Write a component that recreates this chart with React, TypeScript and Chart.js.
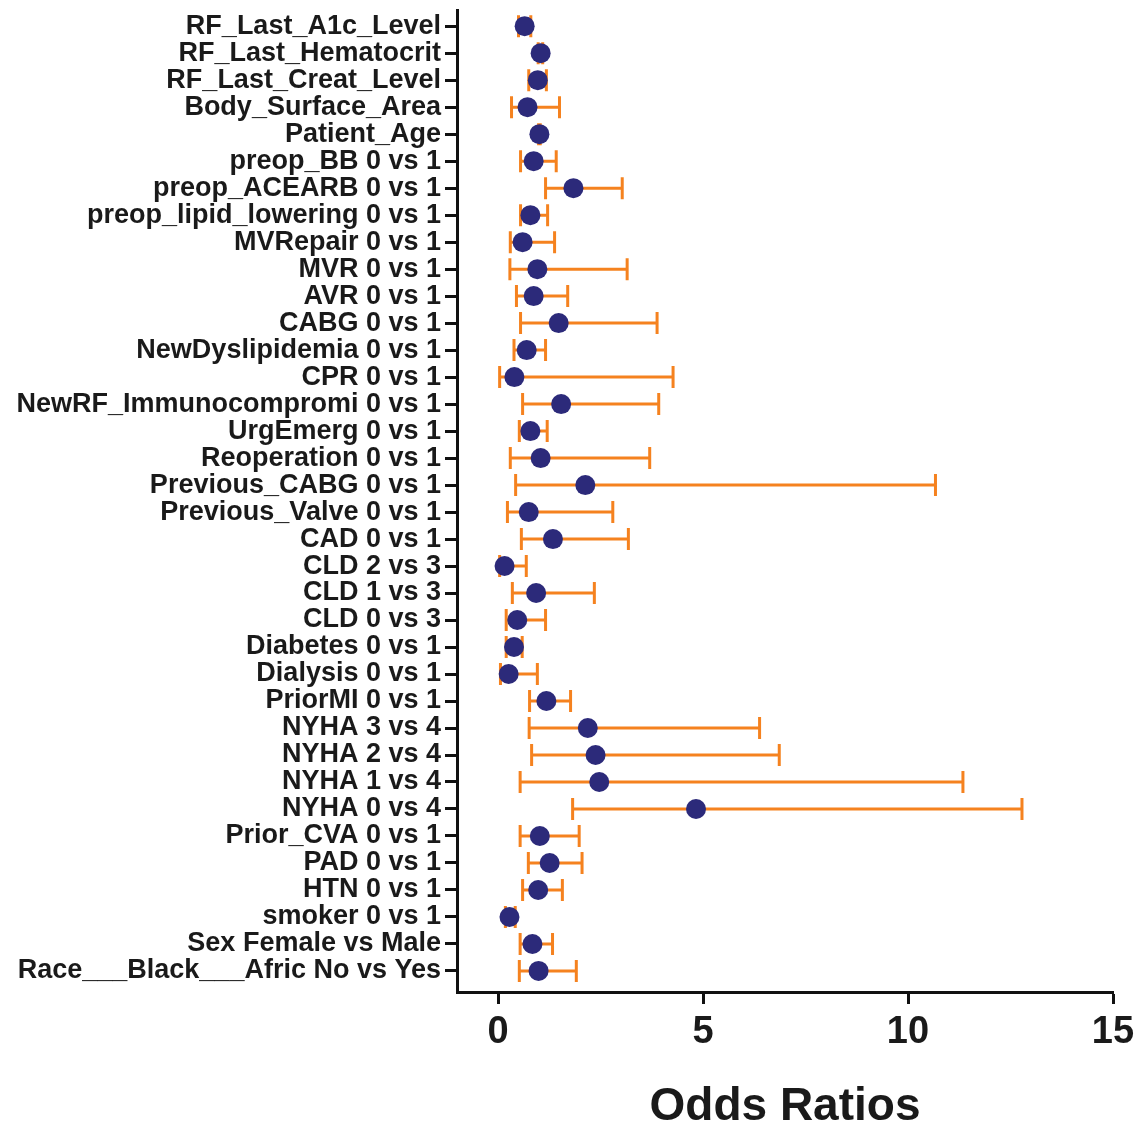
import React, { useEffect, useRef } from "react";
import { Chart, registerables } from "chart.js";

Chart.register(...registerables);

const labels = [
  "RF_Last_A1c_Level",
  "RF_Last_Hematocrit",
  "RF_Last_Creat_Level",
  "Body_Surface_Area",
  "Patient_Age",
  "preop_BB 0 vs 1",
  "preop_ACEARB 0 vs 1",
  "preop_lipid_lowering 0 vs 1",
  "MVRepair 0 vs 1",
  "MVR 0 vs 1",
  "AVR 0 vs 1",
  "CABG 0 vs 1",
  "NewDyslipidemia 0 vs 1",
  "CPR 0 vs 1",
  "NewRF_Immunocompromi 0 vs 1",
  "UrgEmerg 0 vs 1",
  "Reoperation 0 vs 1",
  "Previous_CABG 0 vs 1",
  "Previous_Valve 0 vs 1",
  "CAD 0 vs 1",
  "CLD 2 vs 3",
  "CLD 1 vs 3",
  "CLD 0 vs 3",
  "Diabetes 0 vs 1",
  "Dialysis 0 vs 1",
  "PriorMI 0 vs 1",
  "NYHA 3 vs 4",
  "NYHA 2 vs 4",
  "NYHA 1 vs 4",
  "NYHA 0 vs 4",
  "Prior_CVA 0 vs 1",
  "PAD 0 vs 1",
  "HTN 0 vs 1",
  "smoker 0 vs 1",
  "Sex Female vs Male",
  "Race___Black___Afric No vs Yes",
];

const oddsRatio = [
  0.65, 1.04, 0.97, 0.72, 1.01, 0.87, 1.84, 0.79, 0.6, 0.96, 0.87, 1.48,
  0.7, 0.4, 1.54, 0.79, 1.04, 2.13, 0.75, 1.34, 0.16, 0.93, 0.47, 0.39,
  0.26, 1.18, 2.19, 2.38, 2.47, 4.83, 1.02, 1.26, 0.98, 0.28, 0.84, 0.99,
];

const lowerCI = [
  0.5, 0.98, 0.75, 0.33, 0.99, 0.55, 1.16, 0.55, 0.3, 0.29, 0.45, 0.55,
  0.39, 0.04, 0.6, 0.52, 0.3, 0.43, 0.23, 0.57, 0.04, 0.35, 0.2, 0.2,
  0.06, 0.77, 0.76, 0.82, 0.54, 1.82, 0.54, 0.74, 0.6, 0.18, 0.54, 0.52,
];

const upperCI = [
  0.8, 1.09, 1.18, 1.5, 1.03, 1.42, 3.03, 1.21, 1.38, 3.15, 1.7, 3.88,
  1.16, 4.27, 3.92, 1.2, 3.7, 10.67, 2.8, 3.18, 0.69, 2.35, 1.16, 0.59,
  0.96, 1.77, 6.38, 6.86, 11.34, 12.78, 1.98, 2.05, 1.57, 0.42, 1.33, 1.91,
];

const xTicks = [0, 5, 10, 15];

const FONT = "'Liberation Sans', Arial, sans-serif";
const TEXT = "#1a1a1a";
const AXIS = "#111111";
const ORANGE = "#F5821F";
const NAVY = "#2C2A7A";

const errorBars = {
  id: "errorBars",
  beforeDatasetsDraw(chart: any) {
    const { ctx, scales } = chart;
    const x = scales.x;
    const y = scales.y;
    ctx.save();
    ctx.strokeStyle = ORANGE;
    ctx.lineWidth = 3;
    ctx.lineCap = "butt";
    labels.forEach((_, i) => {
      const py = y.getPixelForValue(i);
      const x1 = x.getPixelForValue(lowerCI[i]);
      const x2 = x.getPixelForValue(upperCI[i]);
      ctx.beginPath();
      ctx.moveTo(x1, py);
      ctx.lineTo(x2, py);
      ctx.moveTo(x1, py - 11);
      ctx.lineTo(x1, py + 11);
      ctx.moveTo(x2, py - 11);
      ctx.lineTo(x2, py + 11);
      ctx.stroke();
    });
    ctx.restore();
  },
};

export default function App() {
  const ref = useRef<HTMLCanvasElement | null>(null);

  useEffect(() => {
    if (!ref.current) return;
    const chart = new Chart(ref.current, {
      type: "scatter",
      data: {
        datasets: [
          {
            label: "Odds Ratio",
            data: labels.map((_, i) => ({ x: oddsRatio[i], y: i })),
            backgroundColor: NAVY,
            borderWidth: 0,
            pointRadius: 10,
            pointHoverRadius: 10,
          },
        ],
      },
      options: {
        responsive: false,
        animation: false,
        layout: { padding: { top: 2, right: 32, left: 0, bottom: 0 } },
        plugins: {
          legend: { display: false },
          tooltip: { enabled: false },
        },
        scales: {
          x: {
            type: "linear",
            min: -1,
            max: 15,
            afterBuildTicks: (s: any) => {
              s.ticks = xTicks.map((v) => ({ value: v }));
            },
            afterFit: (s: any) => {
              s.height = 138;
              s.paddingLeft = 0;
              s.paddingRight = 0;
            },
            ticks: {
              autoSkip: false,
              maxRotation: 0,
              padding: 6,
              color: TEXT,
              font: { family: FONT, size: 38, weight: "bold" },
              callback: (v: any) => String(v),
            },
            grid: {
              drawOnChartArea: false,
              drawTicks: true,
              tickLength: 12,
              tickWidth: 3,
              color: AXIS,
            },
            border: { display: true, width: 3, color: AXIS },
            title: {
              display: true,
              text: "Odds Ratios",
              color: TEXT,
              font: { family: FONT, size: 46, weight: "bold", lineHeight: 1 },
              padding: { top: 0, bottom: 0 },
            },
          },
          y: {
            type: "linear",
            reverse: true,
            min: -0.6,
            max: 35.78,
            afterBuildTicks: (s: any) => {
              s.ticks = labels.map((_, i) => ({ value: i }));
            },
            afterFit: (s: any) => {
              s.width = 457;
              s.paddingTop = 0;
              s.paddingBottom = 0;
            },
            ticks: {
              autoSkip: false,
              padding: 4,
              color: TEXT,
              font: { family: FONT, size: 27, weight: "bold" },
              callback: (v: any) => labels[Math.round(Number(v))] ?? "",
            },
            grid: {
              drawOnChartArea: false,
              drawTicks: true,
              tickLength: 12,
              tickWidth: 3,
              color: AXIS,
            },
            border: { display: true, width: 3, color: AXIS },
          },
        },
      },
      plugins: [errorBars],
    } as any);
    return () => chart.destroy();
  }, []);

  return (
    <div style={{ position: "absolute", left: 0, top: 0, width: 1145, height: 1130, background: "#ffffff" }}>
      <canvas ref={ref} width={1145} height={1130} />
    </div>
  );
}
